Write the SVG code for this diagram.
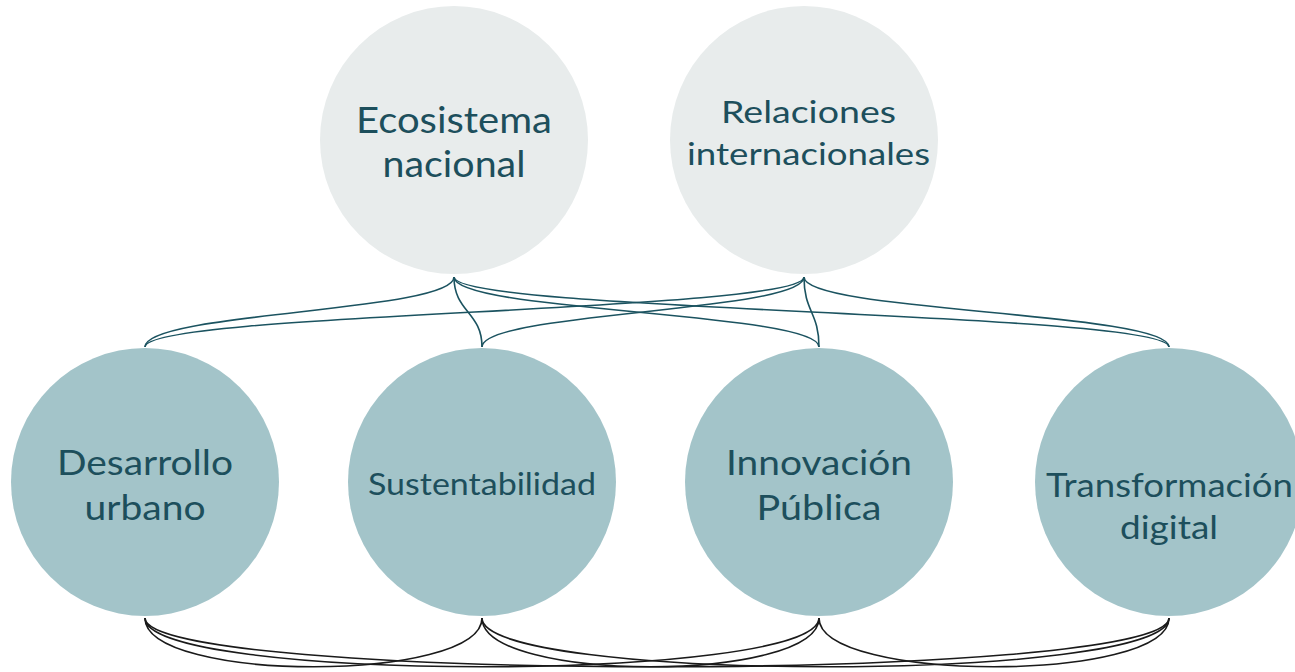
<svg xmlns="http://www.w3.org/2000/svg" width="1295" height="672" viewBox="0 0 1295 672">
<style>
.top{fill:#e8ecec}
.bot{fill:#a3c4c9}
text{font-family:Lato,"Open Sans",sans-serif;fill:#1d4f5c;text-anchor:middle}
.up path{fill:none;stroke:#1b5360;stroke-width:1.6}
.down path{fill:none;stroke:#1a1a1a;stroke-width:1.6}
</style>
<rect width="1295" height="672" fill="#ffffff"/>
<g id="connectors">
<g class="up">
<path d="M454,277 C454,312 145,312 145,347"/>
<path d="M454,277 C454,312 482,312 482,347"/>
<path d="M454,277 C454,312 819,312 819,347"/>
<path d="M454,277 C454,312 1169,312 1169,347"/>
<path d="M804,277 C804,312 145,312 145,347"/>
<path d="M804,277 C804,312 482,312 482,347"/>
<path d="M804,277 C804,312 819,312 819,347"/>
<path d="M804,277 C804,312 1169,312 1169,347"/>
</g>
<g class="down">
<path d="M145,618 C145,683 482,683 482,618"/>
<path d="M145,618 C145,683 819,683 819,618"/>
<path d="M145,618 C145,683 1169,683 1169,618"/>
<path d="M482,618 C482,683 819,683 819,618"/>
<path d="M482,618 C482,683 1169,683 1169,618"/>
<path d="M819,618 C819,683 1169,683 1169,618"/>
</g>
</g>
<g id="ecosistema">
<circle class="top" cx="454" cy="140" r="134"/>
<text x="454" y="133" font-size="36" textLength="196" lengthAdjust="spacingAndGlyphs">Ecosistema</text>
<text x="454" y="177" font-size="36" textLength="143" lengthAdjust="spacingAndGlyphs">nacional</text>
</g>
<g id="relaciones">
<circle class="top" cx="804" cy="140" r="134"/>
<text x="808.5" y="123" font-size="31" textLength="175" lengthAdjust="spacingAndGlyphs">Relaciones</text>
<text x="808.5" y="165" font-size="31" textLength="243" lengthAdjust="spacingAndGlyphs">internacionales</text>
</g>
<g id="desarrollo">
<circle class="bot" cx="145" cy="482" r="134"/>
<text x="145" y="475" font-size="35" textLength="176" lengthAdjust="spacingAndGlyphs">Desarrollo</text>
<text x="145" y="520" font-size="35" textLength="121" lengthAdjust="spacingAndGlyphs">urbano</text>
</g>
<g id="sustentabilidad">
<circle class="bot" cx="482" cy="482" r="134"/>
<text x="482" y="495" font-size="31" textLength="228" lengthAdjust="spacingAndGlyphs">Sustentabilidad</text>
</g>
<g id="innovacion">
<circle class="bot" cx="819" cy="482" r="134"/>
<text x="819" y="475" font-size="35" textLength="186" lengthAdjust="spacingAndGlyphs">Innovación</text>
<text x="819" y="520" font-size="35" textLength="125" lengthAdjust="spacingAndGlyphs">Pública</text>
</g>
<g id="transformacion">
<circle class="bot" cx="1169" cy="482" r="134"/>
<text x="1169.5" y="497" font-size="33" textLength="247" lengthAdjust="spacingAndGlyphs">Transformación</text>
<text x="1169" y="539" font-size="33" textLength="98" lengthAdjust="spacingAndGlyphs">digital</text>
</g>
</svg>
